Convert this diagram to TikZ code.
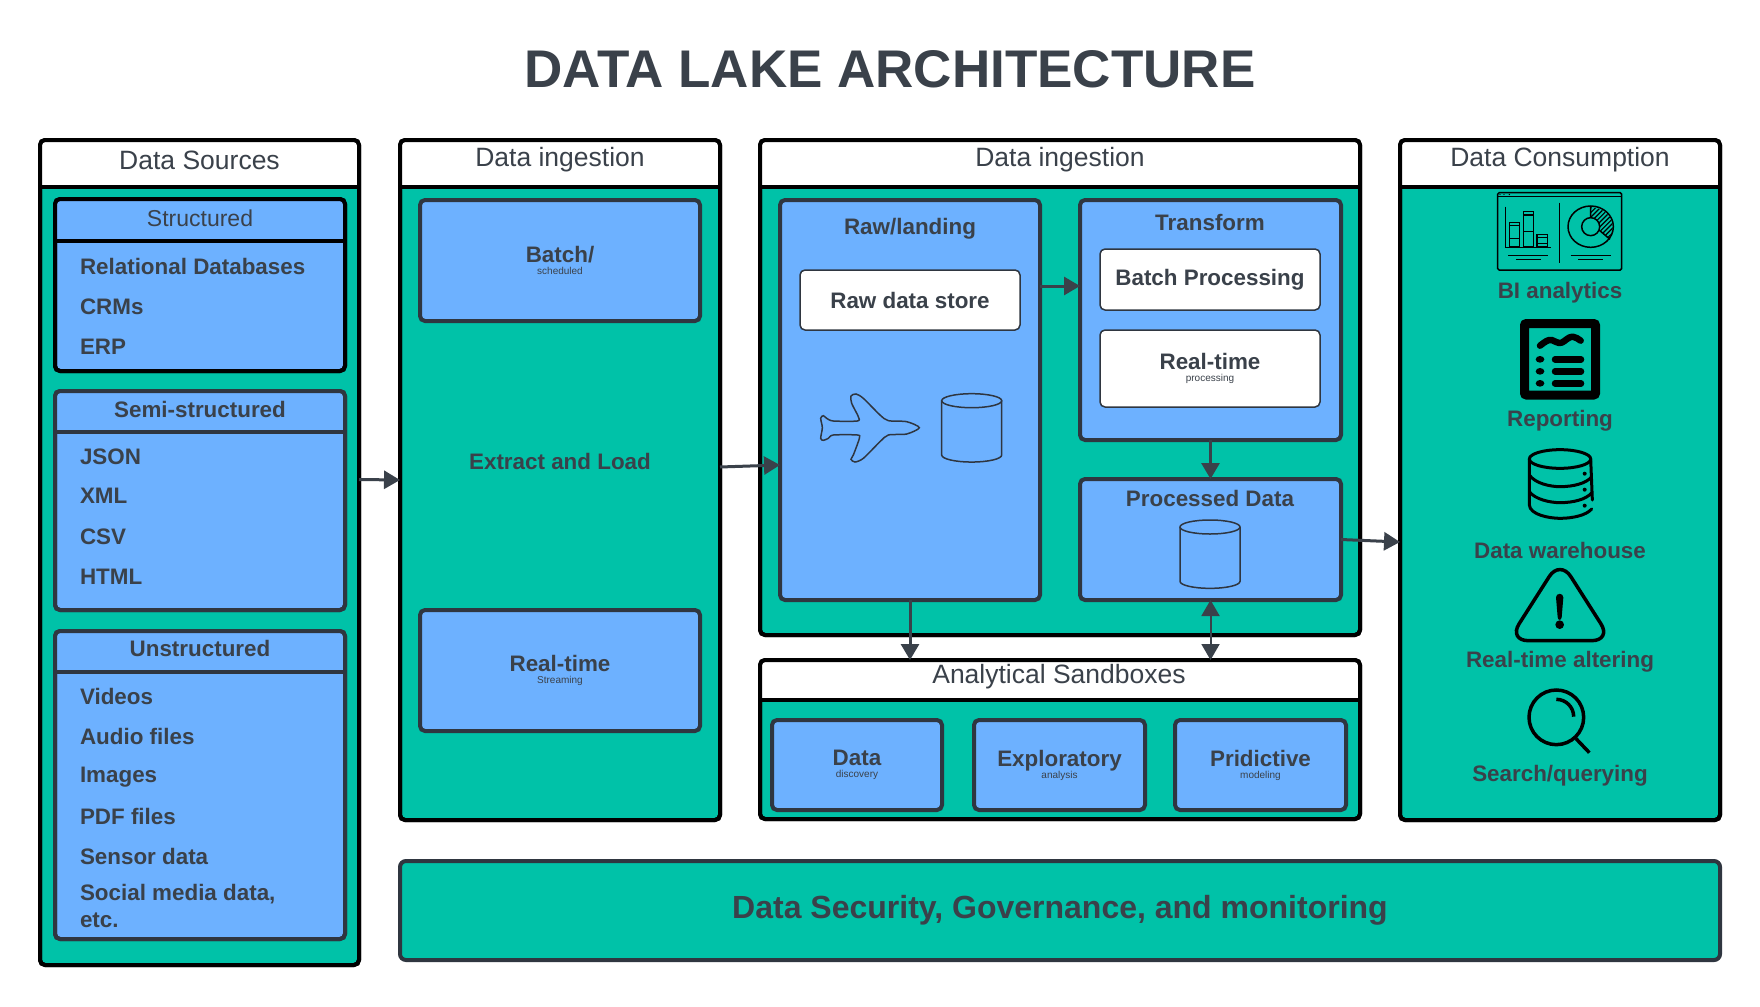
\documentclass[tikz,border=0pt]{standalone}
\usepackage{fontspec}
\setmainfont{Liberation Sans}
\usetikzlibrary{arrows.meta}
\definecolor{tealfill}{HTML}{00C2A8}
\definecolor{bluefill}{HTML}{6DB1FF}
\definecolor{inktxt}{HTML}{3A414A}
\definecolor{edgedark}{HTML}{2F3640}
\tikzset{
  base/.style={rectangle,inner sep=0pt,outer sep=0pt,align=center,text=inktxt},
  panelbox/.style={base,draw=black,line width=4pt,rounded corners=5pt,fill=tealfill},
  structbox/.style={base,draw=black,line width=4pt,rounded corners=5pt,fill=bluefill},
  bluebox/.style={base,draw=edgedark,line width=4pt,rounded corners=5pt,fill=bluefill},
  whitebox/.style={base,draw=edgedark,line width=1.5pt,rounded corners=5pt,fill=white},
  barbox/.style={base,draw=edgedark,line width=4pt,rounded corners=6pt,fill=tealfill},
  headtxt/.style={base,font=\fontsize{26.5}{30}\selectfont},
  subtxt/.style={base,font=\fontsize{23}{27}\selectfont},
  boldtxt/.style={base,font=\fontsize{22.4}{27}\selectfont\bfseries},
  listtxt/.style={boldtxt,anchor=west,align=left},
  arr/.style={draw=inktxt,line width=3pt,-{Triangle[length=16pt,width=18pt]}},
  darr/.style={draw=inktxt,line width=2pt,{Triangle[length=16pt,width=18pt]}-{Triangle[length=16pt,width=18pt]}},
  ico/.style={draw=black,line width=1.5pt},
  zoomA/.style={shift={(1480,180)},x=0.33333pt,y=-0.33333pt},
  zoomB/.style={shift={(1480,440)},x=0.33333pt,y=-0.33333pt},
}
\newcommand{\bx}[7]{\node[#1,minimum width={(#5-#3)*1pt},minimum height={(#6-#4)*1pt}] (#2) at ({(#3+#5)/2},{(#4+#6)/2}) {#7};}
% style, name, x1,y1,x2,y2, ybar, header fill, line colour
\newcommand{\hdrpanel}[9]{%
  \bx{#1}{#2}{#3}{#4}{#5}{#6}{}
  \begin{scope}
    \clip[rounded corners=5pt] (#3,#4) rectangle (#5,#6);
    \fill[#8] (#3,#4) rectangle (#5,#7);
  \end{scope}
  \draw[draw=#9,line width=4pt] (#2.west |- 0,#7) -- (#2.east |- 0,#7);
  \draw[draw=#9,line width=4pt,rounded corners=5pt] (#3,#4) rectangle (#5,#6);
}
\newcommand{\cyl}[2]{%
  \begin{scope}[shift={(#1,#2)},x=0.33333pt,y=-0.33333pt]
    \draw[ico,draw=edgedark] (0,0) ellipse [x radius=90,y radius=21];
    \draw[ico,draw=edgedark] (-90,0) -- (-90,163) arc[start angle=180,end angle=0,x radius=90,y radius=21] -- (90,0);
  \end{scope}
}
\begin{document}
\begin{tikzpicture}[x=1pt,y=-1pt]
\useasboundingbox[fill=white] (0,0) rectangle (1760,1006);

\node[base,font=\fontsize{53}{60}\selectfont\bfseries,text=inktxt] (title) at (890,69) {DATA LAKE ARCHITECTURE};

% outer panels
\hdrpanel{panelbox}{src}{40}{140}{359}{965}{187}{white}{black}
\hdrpanel{panelbox}{ing}{400}{140}{720}{820}{187}{white}{black}
\hdrpanel{panelbox}{lake}{760}{140}{1360}{635}{187}{white}{black}
\hdrpanel{panelbox}{cons}{1400}{140}{1720}{820}{187}{white}{black}
\hdrpanel{panelbox}{sand}{760}{660}{1360}{819}{700}{white}{black}
\bx{barbox}{bar}{400}{861}{1720}{960}{\fontsize{32}{38}\selectfont\bfseries Data Security, Governance, and monitoring}

\node[headtxt] (srch) at (199.5,160) {Data Sources};
\node[headtxt] (ingh) at (560,160) {Data ingestion};
\node[headtxt] (lakeh) at (1060,160) {Data ingestion};
\node[headtxt] (consh) at (1560,160) {Data Consumption};
\node[headtxt] (sandh) at (1059,677) {Analytical Sandboxes};

% sources
\hdrpanel{structbox}{st}{55}{199}{345}{371}{241}{bluefill}{black}
\node[subtxt] (sth) at (200,218) {Structured};
\hdrpanel{bluebox}{semi}{55}{391}{345}{610}{432}{bluefill}{edgedark}
\node[boldtxt] (semih) at (200,409) {Semi-structured};
\hdrpanel{bluebox}{uns}{55}{631}{345}{939}{672}{bluefill}{edgedark}
\node[boldtxt] (unsh) at (200,648) {Unstructured};

\node[listtxt] (l1) at (80,266) {Relational Databases};
\node[listtxt] (l2) at (80,307) {CRMs};
\node[listtxt] (l3) at (80,347) {ERP};
\node[listtxt] (l4) at (80,457) {JSON};
\node[listtxt] (l5) at (80,496) {XML};
\node[listtxt] (l6) at (80,537) {CSV};
\node[listtxt] (l7) at (80,577) {HTML};
\node[listtxt] (l8) at (80,696) {Videos};
\node[listtxt] (l9) at (80,736) {Audio files};
\node[listtxt] (l10) at (80,777) {Images};
\node[listtxt] (l11) at (80,816) {PDF files};
\node[listtxt] (l12) at (80,856) {Sensor data};
\node[listtxt] (l13) at (80,906) {Social media data,\\etc.};

% ingestion
\bx{bluebox}{batch}{420}{200}{700}{321}{\fontsize{22.4}{27}\selectfont\bfseries Batch/\\scheduled}
\bx{bluebox}{stream}{420}{610}{700}{731}{\fontsize{22.4}{27}\selectfont\bfseries Real-time\\Streaming}
\node[boldtxt] (el) at (560,461) {Extract and Load};

% lake
\bx{bluebox}{raw}{780}{200}{1040}{600}{}
\node[boldtxt] (rawh) at (910,229) {Raw/landing};
\bx{whitebox}{rawstore}{800}{270}{1020}{330}{\fontsize{22.4}{27}\selectfont\bfseries Raw data store}
\bx{bluebox}{trans}{1080}{200}{1341}{440}{}
\node[boldtxt] (transh) at (1210,222) {Transform};
\bx{whitebox}{bp}{1100}{249}{1320}{310}{\fontsize{22.4}{27}\selectfont\bfseries Batch Processing}
\bx{whitebox}{rp}{1100}{330}{1320}{407}{\fontsize{22.4}{27}\selectfont\bfseries Real-time\\processing}
\bx{bluebox}{proc}{1080}{479}{1341}{600}{}
\node[boldtxt] (proch) at (1210,498) {Processed Data};

\cyl{971.7}{400.7}
\cyl{1210}{527}

% plane
\begin{scope}[shift={(780,370)},x=0.33333pt,y=-0.33333pt]
  \draw[ico,draw=edgedark] plot[smooth cycle,tension=0.45] coordinates {(418,173)(380,155)(325,152)(300,135)(250,85)(228,72)(213,78)(215,100)(235,140)(232,153)(160,153)(140,145)(130,137)(122,145)(127,173)(122,205)(130,211)(145,205)(160,195)(232,195)(238,205)(220,255)(213,268)(225,276)(250,265)(300,215)(325,195)(380,192)};
\end{scope}

% sandboxes
\bx{bluebox}{s1}{772}{720}{942}{810}{\fontsize{22.4}{27}\selectfont\bfseries Data\\discovery}
\bx{bluebox}{s2}{974}{720}{1145}{810}{\fontsize{22.4}{27}\selectfont\bfseries Exploratory\\analysis}
\bx{bluebox}{s3}{1175}{720}{1346}{810}{\fontsize{22.4}{27}\selectfont\bfseries Pridictive\\modeling}

% consumption labels
\node[boldtxt] (c1) at (1560,293) {BI analytics};
\node[boldtxt] (c2) at (1560,421) {Reporting};
\node[boldtxt] (c3) at (1560,550) {Data warehouse};
\node[boldtxt] (c4) at (1560,662) {Real-time altering};
\node[boldtxt] (c5) at (1560,776) {Search/querying};

% BI icon
\begin{scope}[zoomA]
  \draw[ico,rounded corners=1.5pt] (53,38) rectangle (425,270);
  \draw[ico] (53,49) -- (425,49);
  \foreach \dx in {60,72,88}{\fill (\dx,43.5) circle[radius=2];}
  \draw[ico] (77,80) -- (77,202) -- (213,202);
  \draw[ico] (89,128) rectangle (119,200) (89,137) -- (119,137) (89,175) -- (119,175);
  \draw[ico] (130,95) rectangle (161,200) (130,105) -- (161,105) (130,155) -- (161,155);
  \draw[ico] (171,163) rectangle (203,200) (171,172) -- (203,172) (171,190) -- (203,190);
  \draw[ico] (85,227) -- (205,227) (108,238) -- (183,238);
  \draw[ico] (239,68) -- (239,250);
  \draw[ico] (272,227) -- (393,227) (295,238) -- (370,238);
  \draw[ico] (332,140) ellipse[x radius=68,y radius=62];
  \draw[ico] (332,140) circle[radius=27];
  \begin{scope}
    \clip (332,82) arc[start angle=-90,end angle=35,x radius=66,y radius=58] -- (358,148) arc[start angle=15,end angle=-90,radius=26] -- cycle;
    \foreach \k in {-8,...,12}{\draw[line width=1.2pt] (300+\k*14,200) -- (420+\k*14,80);}
  \end{scope}
  \draw[ico] (332,78) -- (332,113) (357,150) -- (390,178);
\end{scope}

% Reporting icon
\begin{scope}[zoomA]
  \draw[line width=9pt,rounded corners=2pt] (133.5,430.5) rectangle (346.5,645);
  \draw[line width=6.5pt,line cap=round,line join=round] (180,497) .. controls (195,485) and (205,478) .. (215,480) .. controls (225,482) and (232,492) .. (245,488) .. controls (255,484) and (265,470) .. (278,470) .. controls (287,470) and (295,478) .. (302,482);
  \foreach \yy in {538,574,610}{
    \fill (180,\yy) ellipse[x radius=13,y radius=10];
    \draw[line width=6.5pt,line cap=round] (225,\yy) -- (303,\yy);
  }
\end{scope}

% Data warehouse icon
\begin{scope}[zoomB]
  \draw[line width=3pt] (240,57) ellipse[x radius=92,y radius=28];
  \draw[line width=3pt,line cap=round] (148,57) -- (148,195) .. controls (150,225) and (210,235) .. (240,235) .. controls (280,235) and (320,225) .. (335,207);
  \draw[line width=3pt,line cap=round] (332,57) -- (337,180);
  \draw[line width=3pt] (148,105) .. controls (165,130) and (210,140) .. (240,140) .. controls (280,140) and (320,130) .. (335,110);
  \draw[line width=3pt] (148,155) .. controls (165,178) and (210,188) .. (240,188) .. controls (280,188) and (320,178) .. (335,158);
  \foreach \yy in {101,149,197}{\fill (314,\yy) circle[radius=6];}
\end{scope}

% Alert icon
\begin{scope}[zoomB]
  \draw[line width=3.5pt,rounded corners=20pt] (240,602) -- (85,602) -- (240,359) -- (395,602) -- cycle;
  \fill (228,472) .. controls (228,458) and (250,458) .. (250,472) -- (245,532) .. controls (244,542) and (234,542) .. (233,532) -- cycle;
  \fill (239,554) circle[radius=13];
\end{scope}

% Search icon
\begin{scope}[zoomB]
  \draw[line width=3.5pt] (229,832) circle[radius=82];
  \draw[line width=3.5pt] (229,778) arc[start angle=-90,end angle=0,radius=52];
  \draw[line width=3.5pt] (288,896) -- (328,938);
\end{scope}

% connectors
\draw[arr] ([yshift=73pt]src.east) -- (ing.west);
\draw[arr] ([yshift=13pt]ing.east) -- ([yshift=-65pt]raw.west);
\draw[arr] ([yshift=114pt]raw.east) -- ([yshift=34pt]trans.west);
\draw[arr] (trans.south) -- (proc.north);
\draw[arr] (proc.east) -- ([yshift=-62pt]cons.west);
\draw[arr] (raw.south) -- (raw.south |- sand.north);
\draw[darr] (proc.south) -- (proc.south |- sand.north);
\end{tikzpicture}
\end{document}
